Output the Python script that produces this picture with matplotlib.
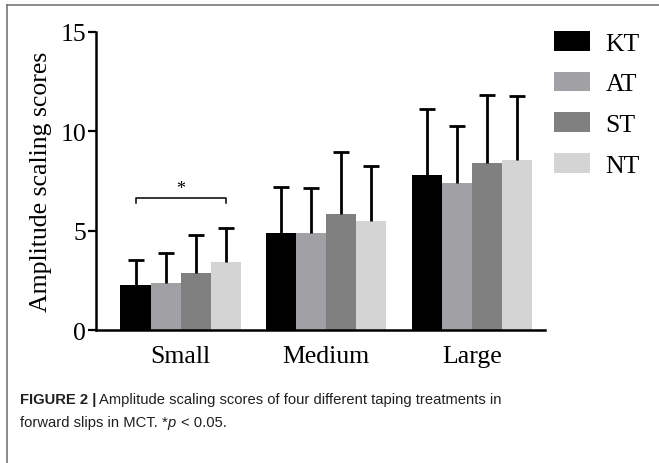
import matplotlib
matplotlib.use("Agg")
import matplotlib.pyplot as plt
from matplotlib.patches import Patch
import numpy as np

# data
groups = ["Small", "Medium", "Large"]
treatments = ["KT", "AT", "ST", "NT"]
colors = ["#000000", "#a0a0a5", "#808080", "#d4d4d4"]
means = {
    "KT": [2.24, 4.86, 7.78],
    "AT": [2.37, 4.90, 7.42],
    "ST": [2.86, 5.86, 8.40],
    "NT": [3.42, 5.50, 8.57],
}
upper = {
    "KT": [3.54, 7.19, 11.13],
    "AT": [3.89, 7.17, 10.25],
    "ST": [4.76, 8.95, 11.85],
    "NT": [5.14, 8.25, 11.78],
}

serif = "Liberation Serif"
cap_font = "Liberation Sans"
fs = 18.5

fig = plt.figure(figsize=(6.59, 4.64), dpi=100)
ax = fig.add_axes([96 / 659, 1 - 331 / 464, 449 / 659, 298 / 464])

x = np.arange(len(groups))
w = 0.206
for i, t in enumerate(treatments):
    pos = x + (i - 1.5) * w
    m = np.array(means[t])
    up = np.array(upper[t])
    ax.bar(pos, m, width=w, color=colors[i], zorder=2)
    # one-sided error bars: stem from the bar top up to mean + SD, cap on top only
    ax.vlines(pos, m, up, color="black", lw=2, zorder=3)
    ax.plot(pos, up, ls="none", marker="_", markersize=12, mew=2, color="black", zorder=3)

# significance bracket (Small: KT vs NT)
x1 = x[0] - 1.5 * w
x2 = x[0] + 1.5 * w
yb = 6.63
ax.plot([x1, x1, x2, x2], [yb - 0.22, yb, yb, yb - 0.22], color="black", lw=1.1)
ax.text((x1 + x2) / 2, yb + 0.05, "*", ha="center", va="bottom", fontsize=13, family=serif)

ax.set_xlim(-0.58, 2.5)
ax.set_ylim(0, 15)
ax.set_yticks([0, 5, 10, 15])
ax.set_xticks(x)
ax.set_xticklabels(groups, family=serif, fontsize=fs)
ax.tick_params(axis="x", length=0, pad=11)
ax.tick_params(axis="y", length=6, width=1.6, pad=1, labelsize=fs)
for lab in ax.get_yticklabels():
    lab.set_family(serif)
ax.set_ylabel("Amplitude scaling scores", family=serif, fontsize=fs, labelpad=6)
for s in ["top", "right"]:
    ax.spines[s].set_visible(False)
for s in ["left", "bottom"]:
    ax.spines[s].set_linewidth(1.8)

handles = [Patch(facecolor=c, label=t) for c, t in zip(colors, treatments)]
fig.legend(handles=handles, loc="upper left", bbox_to_anchor=(554 / 659, 1 - 32 / 464),
           frameon=False, borderpad=0, borderaxespad=0, handlelength=1.4, handleheight=0.8,
           handletextpad=0.6, labelspacing=0.66, prop={"family": serif, "size": fs})

# frame around the figure panel
fig.add_artist(plt.Line2D([7 / 659, 7 / 659], [0, 1 - 6 / 464], color="#777777", lw=1.2))
fig.add_artist(plt.Line2D([7 / 659, 1], [1 - 6 / 464, 1 - 6 / 464], color="#777777", lw=1.2))

# caption with mixed styles
renderer = fig.canvas.get_renderer()
def seg(xpx, ypx, s, **kw):
    t = fig.text(xpx / 659, 1 - ypx / 464, s, va="baseline", fontsize=10.6, color="#231f20", **kw)
    bb = t.get_window_extent(renderer)
    return xpx + bb.width

xx = seg(20, 404, "FIGURE 2 |", family=cap_font, weight="bold")
seg(xx + 3, 404, "Amplitude scaling scores of four different taping treatments in", family=cap_font)
xx = seg(20, 427, "forward slips in MCT. *", family=cap_font)
xx = seg(xx, 427, "p", family=cap_font, style="italic")
seg(xx + 5, 427, "< 0.05.", family=cap_font)

fig.savefig("out.png", dpi=100)
